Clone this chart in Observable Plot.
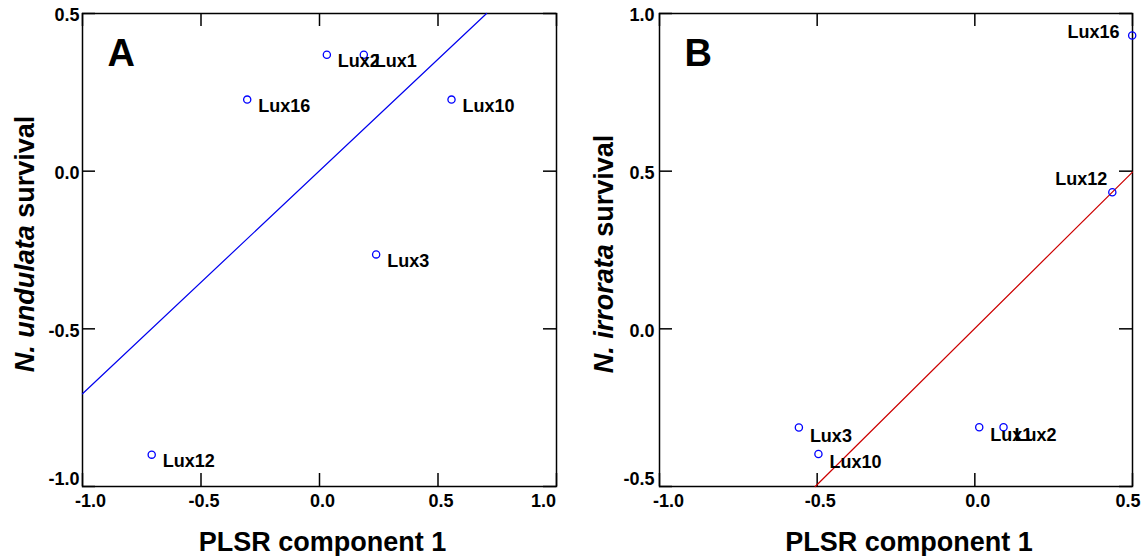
<!DOCTYPE html>
<html><head><meta charset="utf-8">
<script src="https://cdn.jsdelivr.net/npm/d3@7"></script>
<script src="https://cdn.jsdelivr.net/npm/@observablehq/plot@0.6"></script>
<style>
body{margin:0;background:#fff;}
#wrap{display:flex;width:1145px;height:556px;}
svg{font-family:"Liberation Sans",Arial,sans-serif;}
</style></head><body><div id="wrap"></div>
<script>
// Panel A: N. undulata
const namesA = ["Lux2", "Lux1", "Lux3", "Lux10", "Lux12", "Lux16"];
const pcA    = [0.031, 0.187, 0.239, 0.557, -0.708, -0.305];
const survA  = [0.369, 0.369, -0.264, 0.227, -0.899, 0.227];
const fitAx  = [-1.0, 0.705];
const fitAy  = [-0.706, 0.5];
const xTicksA = [-1.0, -0.5, 0.0, 0.5, 1.0];
const yTicksA = [-1.0, -0.5, 0.0, 0.5];

// Panel B: N. irrorata
const namesB = ["Lux1", "Lux2", "Lux3", "Lux10", "Lux12", "Lux16"];
const pcB    = [0.014, 0.091, -0.558, -0.496, 0.436, 0.499];
const survB  = [-0.312, -0.312, -0.313, -0.397, 0.433, 0.930];
const fitBx  = [-0.506, 0.5];
const fitBy  = [-0.5, 0.497];
const xTicksB = [-1.0, -0.5, 0.0, 0.5];
const yTicksB = [-0.5, 0.0, 0.5, 1.0];

const xTitle = "PLSR component 1";
const fmt = d => d.toFixed(1);
const FONT = "Liberation Sans, Arial, sans-serif";

function panel(o) {
  const W = o.width, H = 556, mT = 13, mB = 70;
  const fw = W - o.mL - o.mR, fh = H - mT - mB;
  const TL = 13;
  const pts = o.names.map((name, i) => ({name, x: o.pc[i], y: o.surv[i]}));
  const fit = o.fitx.map((x, i) => ({x, y: o.fity[i]}));
  const xs = o.xTicks, ys = o.yTicks;
  const xIn = xs.slice(1, -1);
  const lbl = {fontSize: 18, fontWeight: "bold", fill: "black"};
  const marks = [
    Plot.frame({stroke: "black", strokeWidth: 1.5}),
    Plot.tickX(xs, {x: d => d, insetTop: fh - TL, stroke: "black", strokeWidth: 1.5}),
    Plot.tickX(xs, {x: d => d, insetBottom: fh - TL, stroke: "black", strokeWidth: 1.5}),
    Plot.tickY(ys, {y: d => d, insetRight: fw - TL, stroke: "black", strokeWidth: 1.5}),
    Plot.tickY(ys, {y: d => d, insetLeft: fw - TL, stroke: "black", strokeWidth: 1.5}),
    // x tick labels
    Plot.text(xIn, {x: d => d, text: fmt, frameAnchor: "bottom", dy: 20, dx: 3, ...lbl}),
    Plot.text([xs[0]], {x: d => d, text: fmt, frameAnchor: "bottom", dy: 20, dx: o.xFirstDx, ...lbl}),
    Plot.text([xs[xs.length - 1]], {x: d => d, text: fmt, frameAnchor: "bottom", dy: 20, dx: o.xLastDx, ...lbl}),
    // y tick labels
    Plot.text(ys.slice(1), {y: d => d, text: fmt, frameAnchor: "left", dx: o.yDx, dy: 2, textAnchor: "end", ...lbl}),
    Plot.text([ys[0]], {y: d => d, text: fmt, frameAnchor: "left", dx: o.yDx, dy: -7, textAnchor: "end", ...lbl}),
    // fit line
    Plot.line(fit, {x: "x", y: "y", stroke: o.lineColor, strokeWidth: 1.2}),
    // points
    Plot.dot(pts, {x: "x", y: "y", r: 3.6, stroke: "#0000ff", strokeWidth: 1.3, fill: "none"}),
    // panel letter
    Plot.text([o.letter], {frameAnchor: "top-left", dx: 25, dy: 52, lineAnchor: "bottom", textAnchor: "start", fontSize: 38, fontWeight: "bold", fill: "black"}),
    // x title
    Plot.text([xTitle], {frameAnchor: "bottom", dx: o.xtDx, dy: 64, lineAnchor: "bottom", textAnchor: "middle", fontSize: 27, fontWeight: "bold", fill: "black"}),
    // y title
    Plot.text([o.species + " survival"], {frameAnchor: "left", dx: o.ytDx, dy: o.ytDy, rotate: -90, textAnchor: "middle", lineAnchor: "middle", fontSize: 27, fontWeight: "bold", fill: "black", className: "ytitle"})
  ];
  for (const g of o.labelGroups) {
    marks.push(Plot.text(pts.filter(p => g.names.includes(p.name)), {
      x: "x", y: "y", text: "name", dx: g.dx, dy: g.dy, textAnchor: g.anchor, lineAnchor: "bottom", ...lbl
    }));
  }
  const svg = Plot.plot({
    width: W, height: H,
    marginLeft: o.mL, marginRight: o.mR, marginTop: mT, marginBottom: mB,
    style: {fontFamily: FONT, background: "white"},
    x: {domain: o.xDomain, axis: null},
    y: {domain: o.yDomain, axis: null},
    marks
  });
  d3.select(svg).selectAll(".ytitle text").each(function () {
    const t = d3.select(this);
    t.text(null);
    t.append("tspan").attr("font-style", "italic").text(o.species);
    t.append("tspan").text(" survival");
  });
  return svg;
}

const wrap = document.getElementById("wrap");
wrap.appendChild(panel({
  width: 580, mL: 82, mR: 24,
  names: namesA, pc: pcA, surv: survA, fitx: fitAx, fity: fitAy,
  xTicks: xTicksA, yTicks: yTicksA, xDomain: [-1, 1], yDomain: [-1, 0.5],
  xFirstDx: 8, xLastDx: -13, yDx: -3,
  lineColor: "#0000ee", letter: "A", species: "N. undulata",
  xtDx: 3, ytDx: -57, ytDy: -6,
  labelGroups: [{names: namesA, dx: 11, dy: 12.5, anchor: "start"}]
}));
wrap.appendChild(panel({
  width: 565, mL: 79, mR: 13,
  names: namesB, pc: pcB, surv: survB, fitx: fitBx, fity: fitBy,
  xTicks: xTicksB, yTicks: yTicksB, xDomain: [-1, 0.5], yDomain: [-0.5, 1.0],
  xFirstDx: 9, xLastDx: -4.5, yDx: -5,
  lineColor: "#cc0000", letter: "B", species: "N. irrorata",
  xtDx: 13, ytDx: -55.5, ytDy: 4,
  labelGroups: [
    {names: ["Lux1", "Lux2", "Lux3", "Lux10"], dx: 11, dy: 14, anchor: "start"},
    {names: ["Lux16"], dx: -12.7, dy: 2, anchor: "end"},
    {names: ["Lux12"], dx: -5, dy: -7.7, anchor: "end"}
  ]
}));
</script>
</body></html>
